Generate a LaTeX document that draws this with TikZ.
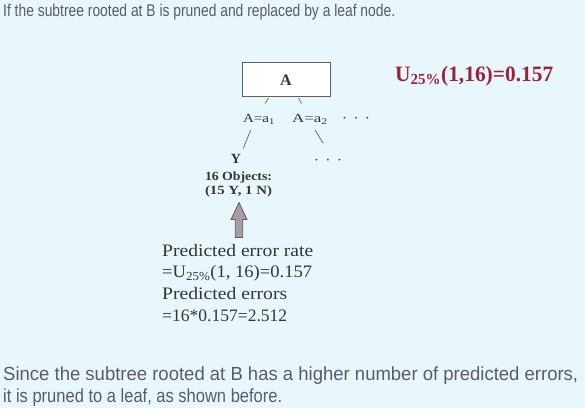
\documentclass[tikz,border=0pt]{standalone}
\usepackage{fontspec}
\usepackage{graphicx}
\setmainfont{Liberation Serif}
\newfontfamily\arialf{Liberation Sans}
\definecolor{bgc}{HTML}{E8F7FB}
\definecolor{sanstxt}{HTML}{5A5A72}
\definecolor{sertxt}{HTML}{353535}
\definecolor{redtxt}{HTML}{A0203C}
\definecolor{arrfill}{HTML}{A89BA3}
\newcommand{\fitw}[2]{\resizebox{#1}{\height}{#2}}
\begin{document}
\begin{tikzpicture}[x=1pt,y=-1pt,
  sanslab/.style={inner sep=0pt,anchor=base west,text=sanstxt,font=\arialf\fontsize{17}{20}\selectfont},
  serlab/.style={inner sep=0pt,anchor=base west,text=sertxt,font=\fontsize{17.5}{20}\selectfont},
  treelab/.style={inner sep=0pt,anchor=base,text=sertxt,font=\fontsize{12.5}{14}\selectfont},
  dotlab/.style={inner sep=0pt,anchor=base,text=sertxt,font=\fontsize{16}{18}\selectfont},
  edge/.style={draw=sertxt!70,line width=0.8pt},
  boxnode/.style={draw=sertxt!80,fill=white,line width=1pt,minimum width=88pt,minimum height=34pt,inner sep=0pt}]
\fill[bgc] (0,0) rectangle (585,408);
\useasboundingbox (0,0) rectangle (585,408);
% title
\node[sanslab] (title) at (3,16.5) {\fitw{392pt}{If the subtree rooted at B is pruned and replaced by a leaf node.}};
% root box
\node[boxnode] (A) at (286,79.5) {};
\node[inner sep=0pt,anchor=base,text=sertxt,font=\bfseries\fontsize{16}{18}\selectfont] (Alab) at (286,85.5) {A};
% branch labels
\node[treelab] (a1) at (259,122.5) {\fitw{32pt}{A=a\textsubscript{1}}};
\node[treelab] (a2) at (310,122.5) {\fitw{36pt}{A=a\textsubscript{2}}};
\node[dotlab] (dots1) at (356,122) {$\cdot\,\cdot\,\cdot$};
\coordinate (A1s) at (268.5,98);
\coordinate (A2s) at (298.5,98);
\draw[edge] (A1s) -- (265,103.5);
\draw[edge] (A2s) -- (301.5,103.5);
% second level
\node[treelab,font=\bfseries\fontsize{14}{16}\selectfont] (Y) at (236,163) {Y};
\node[dotlab] (dots2) at (328,164) {$\cdot\,\cdot\,\cdot$};
\draw[edge] (250.7,130) -- (243.3,148.3);
\draw[edge] (315,130) -- (323.3,143.3);
\node[treelab,font=\bfseries\fontsize{12.5}{14}\selectfont] (obj) at (238.5,180) {\fitw{67pt}{16 Objects:}};
\node[treelab,font=\bfseries\fontsize{12.5}{14}\selectfont] (cnt) at (238.5,194) {\fitw{67pt}{(15 Y, 1 N)}};
% block arrow
\draw[fill=arrfill,draw=sertxt!80,line width=0.8pt,line join=miter]
  (239,202.5) -- (247,219.5) -- (242.7,219.5) -- (242.7,237.5) -- (235.3,237.5) -- (235.3,219.5) -- (231,219.5) -- cycle;
% text block
\node[serlab] (p1) at (162,256) {\fitw{151pt}{Predicted error rate}};
\node[serlab] (p2) at (162,277.5) {\fitw{150pt}{=U\textsubscript{25\%}(1, 16)=0.157}};
\node[serlab] (p3) at (162,299.5) {\fitw{125pt}{Predicted errors}};
\node[serlab] (p4) at (162,321) {\fitw{125pt}{=16*0.157=2.512}};
% red formula
\node[inner sep=0pt,anchor=base west,text=redtxt,font=\bfseries\fontsize{22}{26}\selectfont] (U) at (395,81.5) {\fitw{158pt}{U\textsubscript{25\%}(1,16)=0.157}};
% bottom text
\node[sanslab,font=\arialf\fontsize{19}{22}\selectfont] (b1) at (3,380) {\fitw{575pt}{Since the subtree rooted at B has a higher number of predicted errors,}};
\node[sanslab,font=\arialf\fontsize{19}{22}\selectfont] (b2) at (3,402) {\fitw{279pt}{it is pruned to a leaf, as shown before.}};
\end{tikzpicture}
\end{document}
